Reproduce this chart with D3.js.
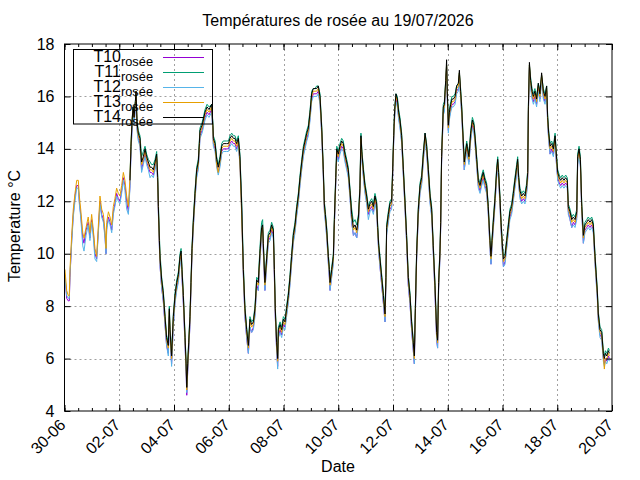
<!DOCTYPE html>
<html lang="fr">
<head>
<meta charset="utf-8">
<title>Températures de rosée au 19/07/2026</title>
<script src="https://cdn.jsdelivr.net/npm/d3@7"></script>
<style>
    body { margin: 0; background: #fff; }
    svg text { font-family: "Liberation Sans", Arial, sans-serif; fill: #000; }
</style>
</head>
<body>
<script>
// heures écoulées depuis le 30/06/2026 00:00
var heures = [
    0.4, 1.9, 3.3, 4.2, 4.8, 6.3, 7.7, 9.2, 10.7, 12.1,
    13.0, 14.2, 16.0, 17.1, 18.9, 20.8, 22.3, 23.8, 25.3, 26.7,
    28.2, 29.7, 31.1, 32.6, 34.1, 35.5, 36.4, 37.0, 38.5, 39.9,
    41.4, 42.8, 44.2, 45.7, 47.2, 48.6, 50.1, 51.6, 53.0, 54.5,
    56.0,
    57.4, 58.3, 59.2, 60.1, 61.0, 62.1, 62.7, 63.6, 64.7, 66.2,
    66.7, 67.6, 69.1, 70.6, 72.0, 73.5, 75.0, 76.4, 77.9, 79.4,
    80.8, 81.7, 82.3, 83.2, 83.8, 85.2, 86.6, 88.1, 89.5, 91.0,
    91.9, 92.5, 93.9, 95.4, 96.9, 98.4, 99.8, 101.3, 102.2, 103.0,
    104.2, 105.7, 106.6, 107.2, 108.0, 108.9, 110.0, 110.9, 111.8, 112.9,
    114.4, 115.9, 117.3, 118.2, 118.8, 120.6, 121.7, 123.2, 125.0, 126.7,
    129.0, 130.1, 130.5, 132.0, 133.4, 134.8, 136.3, 137.8, 139.2, 140.7,
    142.2, 143.7, 145.1, 146.6, 148.1, 149.5, 150.9, 152.4, 153.8, 155.3,
    156.8, 158.2, 159.7, 161.2, 162.6, 164.1, 165.6, 167.0, 168.5, 169.9,
    171.3, 172.8, 173.7, 174.3, 175.7, 177.2, 178.7, 180.2, 181.6, 183.1,
    184.0, 184.8, 186.0, 186.9, 187.5, 189.0, 190.4, 191.9, 193.3, 194.7,
    196.2, 197.7, 199.1, 200.6, 202.1, 203.5, 205.0, 206.5, 208.0, 209.4,
    210.9, 212.4, 213.8, 215.3, 216.7, 218.1, 219.6, 221.1, 222.5, 224.0,
    225.5, 226.9, 227.8, 228.7, 229.9, 231.3, 232.2, 232.8, 234.3, 235.7,
    236.6, 237.8, 238.7, 240.0, 241.5, 243.0, 244.4, 245.9, 247.4, 248.8,
    250.3, 251.8, 253.3, 254.7, 256.2, 257.7, 259.0, 259.9, 260.8, 262.0,
    263.4, 264.9, 266.4, 267.8, 269.3, 270.8, 272.2, 273.7, 274.6, 275.5,
    276.6, 278.1, 279.6, 281.0, 281.8, 282.4, 283.9, 285.3, 286.8, 287.7,
    288.6, 289.5, 290.6, 291.8, 293.0, 294.1, 295.6, 297.1, 298.6, 299.9,
    301.4, 302.9, 304.3, 305.8, 306.7, 307.6, 308.7, 310.2, 311.7, 313.1,
    314.6, 316.1, 317.5, 319.0, 320.5, 321.9, 323.3, 324.8, 326.3, 327.1,
    328.0, 329.2, 329.8, 330.6, 332.1, 333.0, 334.2, 335.0, 335.6, 336.5,
    337.4, 338.6, 339.7, 340.9, 342.4, 343.8, 345.3, 346.2, 347.3, 348.2,
    349.6, 350.5, 351.4, 352.6, 353.4, 354.6, 356.1, 357.6, 359.0, 360.2,
    361.4, 362.8, 364.3, 365.8, 367.1, 368.6, 370.1, 371.5, 373.0, 373.9,
    374.8, 375.9, 377.4, 378.9, 379.8, 380.6, 381.8, 382.7, 383.9, 384.8,
    386.2, 387.7, 389.2, 390.5, 392.0, 393.5, 394.9, 396.4, 397.3, 398.2,
    399.3, 400.8, 402.3, 403.7, 405.2, 406.1, 406.7, 407.6, 408.7, 409.9,
    411.1, 412.4, 413.9, 415.4, 416.8, 418.3, 419.8, 421.3, 422.7, 423.6,
    424.5, 425.7, 427.1, 428.6, 430.1, 431.5, 432.4, 433.8, 435.0, 436.4,
    437.9, 439.4, 440.8, 441.7, 443.2, 444.7, 446.1, 447.6, 449.1, 449.9,
    451.1, 452.3, 453.5, 454.9, 456.3, 457.8, 459.2, 460.7, 462.2, 463.6,
    465.1, 466.0, 467.2, 468.0, 469.5, 471.0, 472.4, 473.3, 474.2, 475.4,
    476.9, 477.7
];

var t10 = [
    9.2, 8.3, 8.2, 8.2, 9.1, 10.5, 11.5, 12.2, 12.6, 12.6,
    12.0, 11.5, 10.6, 10.4, 10.9, 11.2, 10.6, 11.3, 10.8, 10.0,
    9.8, 10.9, 12.0, 11.5, 11.3, 10.7, 10.0, 11.0, 11.4, 11.2,
    10.9, 11.6, 11.9, 12.3, 12.1, 12.0, 12.4, 12.9, 12.6, 12.0,
    11.6,
    12.6, 13.9, 14.8, 15.4, 15.0, 15.6, 16.0, 14.8, 14.4, 14.2,
    13.8, 13.2, 13.5, 13.8, 13.5, 13.3, 13.1, 13.1, 13.0, 13.3,
    13.6, 12.7, 11.6, 10.3, 9.5, 8.7, 8.2, 7.3, 6.5, 6.2,
    7.6, 6.8, 5.8, 7.3, 8.2, 8.7, 9.0, 9.7, 9.9, 9.1,
    8.1, 6.5, 5.5, 4.6, 5.5, 6.3, 7.3, 8.7, 10.0, 11.0,
    12.1, 13.0, 13.3, 14.0, 14.5, 14.7, 14.9, 15.2, 15.4, 15.3,
    15.5, 14.7, 14.2, 14.0, 13.4, 13.1, 13.4, 13.9, 14.0, 14.0,
    14.0, 14.0, 14.2, 14.3, 14.2, 14.2, 14.0, 14.2, 13.5, 11.7,
    9.2, 7.6, 6.8, 6.2, 7.2, 7.0, 7.2, 7.7, 8.8, 8.6,
    9.8, 10.8, 10.9, 10.1, 8.6, 9.6, 10.5, 10.6, 10.9, 10.7,
    9.1, 7.6, 6.3, 5.7, 6.8, 7.1, 6.9, 7.3, 7.2, 7.7,
    8.2, 8.9, 9.7, 10.5, 10.9, 11.5, 12.0, 12.7, 13.3, 13.8,
    14.1, 14.4, 14.6, 15.2, 15.9, 16.1, 16.1, 16.1, 16.2, 15.8,
    14.6, 13.0, 11.7, 11.3, 10.7, 9.7, 9.1, 8.6, 9.2, 9.7,
    11.1, 12.7, 13.8, 13.6, 13.9, 14.1, 14.0, 13.6, 13.3, 13.0,
    12.2, 11.2, 10.7, 10.8, 10.6, 11.2, 12.3, 14.3, 13.6, 13.0,
    12.4, 12.0, 11.5, 11.7, 11.8, 11.6, 12.0, 11.7, 10.8, 10.1,
    9.5, 8.8, 8.1, 7.4, 8.9, 10.8, 11.3, 11.7, 11.8, 13.0,
    14.3, 15.3, 15.9, 15.7, 15.2, 14.9, 14.3, 13.0, 11.7, 10.5,
    8.8, 8.1, 7.1, 6.3, 5.8, 7.7, 9.8, 11.5, 12.4, 12.7,
    13.6, 14.4, 13.9, 13.0, 12.0, 11.5, 10.1, 8.5, 6.7, 6.4,
    8.7, 9.9, 11.0, 13.5, 15.4, 15.5, 16.4, 17.1, 16.0, 14.7,
    15.2, 15.5, 15.7, 15.7, 15.8, 16.2, 16.3, 16.8, 16.0, 15.4,
    14.1, 13.2, 13.6, 14.0, 13.8, 13.5, 14.4, 14.9, 14.7, 14.1,
    13.4, 12.6, 12.4, 12.7, 12.9, 12.6, 12.4, 11.6, 10.3, 9.6,
    10.3, 11.0, 11.9, 13.0, 13.4, 12.9, 11.9, 11.0, 10.1, 9.5,
    9.7, 10.3, 10.9, 11.4, 11.6, 12.1, 12.6, 13.1, 13.4, 12.7,
    12.2, 12.0, 12.1, 12.0, 12.4, 12.9, 15.4, 17.1, 16.4, 16.0,
    15.8, 16.0, 15.7, 16.3, 15.9, 16.7, 16.0, 15.8, 16.2, 15.0,
    14.4, 13.8, 14.0, 13.8, 14.3, 13.3, 12.9, 12.7, 12.6, 12.7,
    12.6, 12.7, 12.6, 11.6, 11.3, 11.0, 11.2, 11.1, 11.4, 13.5,
    13.8, 13.4, 11.6, 10.4, 10.9, 11.0, 11.1, 11.0, 11.1, 10.9,
    9.7, 9.1, 8.3, 7.5, 6.9, 6.8, 6.0, 5.8, 6.0, 5.9,
    6.1, 6.0
];

var t11 = [
    null, null, null, null, null, null, null, null, null, null,
    null, null, null, null, null, null, null, null, null, null,
    null, null, null, null, null, null, null, null, null, null,
    null, null, null, null, null, null, null, null, null, null,
    null,
    12.9, 14.2, 15.1, 15.6, 15.3, 15.8, 16.1, 15.1, 14.7, 14.5,
    14.2, 13.7, 13.9, 14.1, 13.8, 13.6, 13.5, 13.4, 13.4, 13.6,
    13.9, 13.0, 12.0, 10.7, 10.0, 9.1, 8.6, 7.7, 6.9, 6.6,
    8.0, 7.2, 6.2, 7.7, 8.5, 9.0, 9.3, 10.0, 10.2, 9.5,
    8.5, 6.9, 5.9, 5.0, 5.9, 6.7, 7.7, 9.0, 10.3, 11.3,
    12.4, 13.3, 13.6, 14.3, 14.8, 15.0, 15.2, 15.5, 15.7, 15.6,
    15.7, 15.0, 14.5, 14.3, 13.7, 13.4, 13.7, 14.2, 14.3, 14.3,
    14.3, 14.3, 14.5, 14.6, 14.5, 14.5, 14.3, 14.5, 13.8, 12.1,
    9.6, 8.0, 7.2, 6.6, 7.6, 7.4, 7.5, 8.0, 9.1, 9.0,
    10.2, 11.2, 11.3, 10.5, 9.0, 9.9, 10.8, 10.9, 11.2, 11.0,
    9.5, 8.0, 6.7, 6.1, 7.2, 7.4, 7.2, 7.6, 7.5, 8.0,
    8.5, 9.2, 10.0, 10.8, 11.2, 11.8, 12.3, 13.0, 13.6, 14.1,
    14.4, 14.7, 14.9, 15.5, 16.2, 16.3, 16.3, 16.4, 16.4, 16.1,
    14.9, 13.3, 12.0, 11.6, 11.0, 10.0, 9.5, 9.0, 9.5, 10.0,
    11.4, 13.0, 14.1, 13.9, 14.2, 14.4, 14.3, 13.9, 13.6, 13.3,
    12.5, 11.7, 11.2, 11.3, 11.1, 11.5, 12.6, 14.6, 13.9, 13.3,
    12.7, 12.3, 11.8, 12.0, 12.1, 11.9, 12.3, 12.0, 11.1, 10.4,
    9.9, 9.2, 8.5, 7.8, 9.2, 11.1, 11.6, 12.0, 12.1, 13.3,
    14.6, 15.6, 16.1, 16.0, 15.5, 15.2, 14.6, 13.3, 12.0, 10.8,
    9.2, 8.5, 7.5, 6.7, 6.2, 8.0, 10.1, 11.8, 12.7, 13.0,
    13.9, 14.6, 14.2, 13.3, 12.3, 11.8, 10.4, 8.9, 7.1, 6.8,
    9.0, 10.2, 11.3, 13.8, 15.7, 15.8, 16.6, 17.2, 16.3, 15.0,
    15.5, 15.8, 16.0, 16.0, 16.1, 16.4, 16.5, 16.9, 16.3, 15.7,
    14.4, 13.6, 13.9, 14.3, 14.1, 13.8, 14.7, 15.2, 15.0, 14.4,
    13.7, 12.9, 12.7, 13.0, 13.2, 12.9, 12.7, 11.9, 10.6, 10.0,
    10.6, 11.3, 12.2, 13.3, 13.7, 13.2, 12.2, 11.3, 10.4, 9.9,
    10.0, 10.6, 11.2, 11.7, 11.9, 12.4, 12.9, 13.4, 13.7, 13.0,
    12.5, 12.3, 12.4, 12.3, 12.7, 13.2, 15.7, 17.2, 16.7, 16.3,
    16.1, 16.3, 16.0, 16.5, 16.2, 16.8, 16.3, 16.1, 16.4, 15.3,
    14.7, 14.2, 14.3, 14.1, 14.6, 13.7, 13.2, 13.0, 12.9, 13.0,
    12.9, 13.0, 12.9, 11.9, 11.7, 11.4, 11.5, 11.4, 11.7, 13.8,
    14.1, 13.7, 11.9, 10.8, 11.2, 11.3, 11.4, 11.3, 11.4, 11.2,
    10.0, 9.4, 8.6, 7.8, 7.2, 7.1, 6.3, 6.1, 6.3, 6.2,
    6.4, 6.3
];

var t12 = [
    9.1, 8.4, 8.3, 8.3, 9.2, 10.4, 11.4, 12.0, 12.5, 12.5,
    11.9, 11.4, 10.3, 10.1, 10.7, 11.1, 10.5, 11.2, 10.6, 9.8,
    9.7, 10.8, 11.9, 11.4, 11.2, 10.6, 10.0, 10.9, 11.3, 11.1,
    10.8, 11.5, 11.8, 12.2, 12.0, 11.9, 12.3, 12.8, 12.4, 11.7,
    11.5,
    12.5, 13.8, 14.7, 15.3, 14.9, 15.5, 15.9, 14.7, 14.3, 14.1,
    13.7, 13.1, 13.4, 13.7, 13.4, 13.2, 12.9, 13.0, 12.9, 13.2,
    13.5, 12.6, 11.5, 10.2, 9.5, 8.7, 8.2, 7.3, 6.5, 6.1,
    7.6, 6.8, 5.7, 7.2, 8.1, 8.6, 8.9, 9.6, 9.8, 9.1,
    8.1, 6.5, 5.5, 4.7, 5.5, 6.3, 7.3, 8.6, 9.9, 10.9,
    12.0, 12.9, 13.2, 13.9, 14.4, 14.6, 14.8, 15.1, 15.3, 15.2,
    15.4, 14.6, 14.1, 13.9, 13.3, 13.0, 13.3, 13.8, 13.9, 13.9,
    13.9, 13.9, 14.1, 14.2, 14.1, 14.1, 13.9, 14.1, 13.4, 11.6,
    9.1, 7.6, 6.8, 6.2, 7.2, 7.0, 7.1, 7.6, 8.7, 8.6,
    9.7, 10.7, 10.8, 10.1, 8.6, 9.5, 10.4, 10.5, 10.8, 10.6,
    9.1, 7.6, 6.3, 5.6, 6.8, 7.0, 6.8, 7.2, 7.1, 7.6,
    8.1, 8.8, 9.6, 10.4, 10.8, 11.4, 11.9, 12.6, 13.2, 13.7,
    14.0, 14.3, 14.5, 15.1, 15.8, 16.0, 16.0, 16.0, 16.1, 15.7,
    14.5, 12.9, 11.6, 11.2, 10.6, 9.6, 9.1, 8.6, 9.1, 9.6,
    11.0, 12.6, 13.7, 13.5, 13.8, 14.0, 13.9, 13.5, 13.2, 12.9,
    12.1, 11.2, 10.7, 10.8, 10.6, 11.1, 12.2, 14.2, 13.5, 12.9,
    12.3, 11.9, 11.3, 11.6, 11.7, 11.5, 11.9, 11.6, 10.7, 10.0,
    9.5, 8.8, 8.1, 7.4, 8.8, 10.7, 11.2, 11.6, 11.7, 12.9,
    14.2, 15.2, 15.8, 15.6, 15.1, 14.8, 14.2, 12.9, 11.6, 10.4,
    8.8, 8.1, 7.1, 6.3, 5.8, 7.6, 9.7, 11.4, 12.3, 12.6,
    13.5, 14.3, 13.8, 12.9, 11.9, 11.4, 10.0, 8.5, 6.7, 6.4,
    8.6, 9.8, 10.9, 13.4, 15.3, 15.4, 16.3, 17.0, 15.9, 14.6,
    15.1, 15.4, 15.6, 15.6, 15.7, 16.1, 16.2, 16.7, 15.9, 15.3,
    14.0, 13.2, 13.5, 13.9, 13.7, 13.4, 14.3, 14.8, 14.6, 14.0,
    13.3, 12.5, 12.3, 12.6, 12.8, 12.5, 12.3, 11.5, 10.2, 9.6,
    10.2, 10.9, 11.8, 12.9, 13.3, 12.8, 11.8, 10.9, 10.0, 9.5,
    9.6, 10.2, 10.8, 11.3, 11.5, 12.0, 12.5, 13.0, 13.3, 12.6,
    12.1, 11.9, 12.0, 11.9, 12.3, 12.8, 15.3, 17.0, 16.3, 15.9,
    15.7, 15.9, 15.6, 16.2, 15.8, 16.6, 15.9, 15.7, 16.1, 14.9,
    14.3, 13.8, 13.9, 13.7, 14.2, 13.3, 12.8, 12.6, 12.5, 12.6,
    12.5, 12.6, 12.5, 11.5, 11.3, 11.0, 11.1, 11.0, 11.3, 13.4,
    13.7, 13.3, 11.5, 10.4, 10.8, 10.9, 11.0, 10.9, 11.0, 10.8,
    9.6, 9.0, 8.2, 7.4, 6.8, 6.7, 5.9, 5.7, 5.9, 5.8,
    6.0, 5.9
];

var t13 = [
    9.4, 8.6, 8.4, 8.4, 9.4, 10.7, 11.7, 12.3, 12.8, 12.8,
    12.2, 11.7, 10.8, 10.6, 11.0, 11.4, 10.8, 11.5, 10.9, 10.2,
    9.9, 11.1, 12.2, 11.7, 11.5, 10.9, 10.2, 11.2, 11.6, 11.4,
    11.1, 11.8, 12.1, 12.5, 12.3, 12.2, 12.6, 13.1, 12.8, 12.2,
    11.8,
    12.9, 14.1, 15.1, 15.5, 15.2, 15.7, 16.2, 14.9, 14.5, 14.3,
    13.9, 13.4, 13.6, 13.9, 13.6, 13.4, 13.2, 13.2, 13.1, 13.4,
    13.7, 12.8, 11.7, 10.4, 9.7, 8.9, 8.4, 7.5, 6.7, 6.4,
    7.8, 7.0, 6.0, 7.5, 8.3, 8.8, 9.1, 9.8, 10.0, 9.3,
    8.3, 6.7, 5.7, 4.8, 5.7, 6.5, 7.5, 8.8, 10.1, 11.1,
    12.2, 13.1, 13.4, 14.1, 14.6, 14.8, 15.0, 15.3, 15.5, 15.4,
    15.6, 14.8, 14.3, 14.1, 13.4, 13.1, 13.5, 14.0, 14.1, 14.1,
    14.1, 14.1, 14.3, 14.4, 14.3, 14.3, 14.1, 14.3, 13.5, 11.5,
    9.3, 7.8, 7.0, 6.4, 7.4, 7.2, 7.3, 7.8, 8.9, 8.8,
    9.9, 10.9, 11.0, 10.3, 8.8, 9.7, 10.6, 10.7, 11.0, 10.8,
    9.3, 7.8, 6.5, 5.9, 7.0, 7.2, 7.0, 7.4, 7.3, 7.8,
    8.3, 9.0, 9.8, 10.6, 11.0, 11.6, 12.1, 12.8, 13.4, 13.9,
    14.2, 14.5, 14.7, 15.3, 16.0, 16.2, 16.2, 16.2, 16.3, 15.9,
    14.7, 13.1, 11.8, 11.4, 10.8, 9.8, 9.3, 8.8, 9.3, 9.8,
    11.2, 12.8, 13.9, 13.7, 14.0, 14.2, 14.1, 13.7, 13.4, 13.1,
    12.3, 11.4, 10.9, 11.0, 10.8, 11.3, 12.4, 14.4, 13.7, 13.1,
    12.5, 12.1, 11.6, 11.8, 11.9, 11.7, 12.1, 11.8, 10.9, 10.2,
    9.7, 9.0, 8.3, 7.6, 9.0, 10.9, 11.4, 11.8, 11.9, 13.1,
    14.4, 15.4, 16.0, 15.8, 15.3, 15.0, 14.4, 13.1, 11.8, 10.6,
    9.0, 8.3, 7.3, 6.5, 6.0, 7.8, 9.9, 11.6, 12.5, 12.8,
    13.7, 14.5, 14.0, 13.1, 12.1, 11.6, 10.2, 8.7, 6.9, 6.6,
    8.8, 10.0, 11.1, 13.6, 15.5, 15.6, 16.5, 17.2, 16.1, 14.8,
    15.3, 15.6, 15.8, 15.8, 15.9, 16.3, 16.4, 16.9, 16.1, 15.5,
    14.2, 13.4, 13.7, 14.1, 13.9, 13.6, 14.5, 15.0, 14.8, 14.2,
    13.5, 12.7, 12.5, 12.8, 13.0, 12.7, 12.5, 11.7, 10.4, 9.8,
    10.4, 11.1, 12.0, 13.1, 13.5, 13.0, 12.0, 11.1, 10.2, 9.7,
    9.8, 10.4, 11.0, 11.5, 11.7, 12.2, 12.7, 13.2, 13.5, 12.8,
    12.3, 12.1, 12.2, 12.1, 12.5, 13.0, 15.5, 17.2, 16.5, 16.1,
    15.9, 16.1, 15.8, 16.4, 16.0, 16.8, 16.1, 15.9, 16.3, 15.1,
    14.5, 14.0, 14.1, 13.9, 14.4, 13.5, 13.0, 12.8, 12.7, 12.8,
    12.7, 12.8, 12.7, 11.7, 11.5, 11.2, 11.3, 11.2, 11.5, 13.6,
    13.9, 13.5, 11.7, 10.6, 11.0, 11.1, 11.2, 11.1, 11.2, 11.0,
    9.8, 9.2, 8.4, 7.6, 7.0, 6.9, 6.1, 5.6, 6.0, 6.0,
    6.2, 6.1
];

var t14 = [
    null, null, null, null, null, null, null, null, null, null,
    null, null, null, null, null, null, null, null, null, null,
    null, null, null, null, null, null, null, null, null, null,
    null, null, null, null, null, null, null, null, null, null,
    null,
    12.8, 14.1, 15.0, 15.6, 15.2, 15.8, 16.2, 15.0, 14.6, 14.4,
    14.0, 13.5, 13.7, 14.0, 13.7, 13.5, 13.3, 13.3, 13.2, 13.5,
    13.8, 12.9, 11.8, 10.5, 9.8, 9.0, 8.5, 7.6, 6.8, 6.5,
    7.9, 7.1, 6.1, 7.6, 8.4, 8.9, 9.2, 9.9, 10.1, 9.4,
    8.4, 6.8, 5.8, 4.9, 5.8, 6.6, 7.6, 8.9, 10.2, 11.2,
    12.3, 13.2, 13.5, 14.2, 14.7, 14.9, 15.1, 15.4, 15.6, 15.5,
    15.7, 14.9, 14.4, 14.2, 13.6, 13.3, 13.6, 14.1, 14.2, 14.2,
    14.2, 14.2, 14.4, 14.5, 14.4, 14.4, 14.2, 14.4, 13.7, 11.9,
    9.4, 7.9, 7.1, 6.5, 7.5, 7.3, 7.4, 7.9, 9.0, 8.9,
    10.0, 11.0, 11.1, 10.4, 8.9, 9.8, 10.7, 10.8, 11.1, 10.9,
    9.4, 7.9, 6.6, 6.0, 7.1, 7.3, 7.1, 7.5, 7.4, 7.9,
    8.4, 9.1, 9.9, 10.7, 11.1, 11.7, 12.2, 12.9, 13.5, 14.0,
    14.3, 14.6, 14.8, 15.4, 16.1, 16.3, 16.3, 16.3, 16.4, 16.0,
    14.8, 13.2, 11.9, 11.5, 10.9, 9.9, 9.4, 8.9, 9.4, 9.9,
    11.3, 12.9, 14.0, 13.8, 14.1, 14.3, 14.2, 13.8, 13.5, 13.2,
    12.4, 11.5, 11.0, 11.1, 10.9, 11.4, 12.5, 14.5, 13.8, 13.2,
    12.6, 12.2, 11.7, 11.9, 12.0, 11.8, 12.2, 11.9, 11.0, 10.3,
    9.8, 9.1, 8.4, 7.7, 9.1, 11.0, 11.5, 11.9, 12.0, 13.2,
    14.5, 15.5, 16.1, 15.9, 15.4, 15.1, 14.5, 13.2, 11.9, 10.7,
    9.1, 8.4, 7.4, 6.6, 6.1, 7.9, 10.0, 11.7, 12.6, 12.9,
    13.8, 14.6, 14.1, 13.2, 12.2, 11.7, 10.3, 8.8, 7.0, 6.7,
    8.9, 10.1, 11.2, 13.7, 15.6, 15.7, 16.6, 17.4, 16.2, 14.9,
    15.4, 15.7, 15.9, 15.9, 16.0, 16.4, 16.5, 17.0, 16.2, 15.6,
    14.3, 13.5, 13.8, 14.2, 14.0, 13.7, 14.6, 15.1, 14.9, 14.3,
    13.6, 12.8, 12.6, 12.9, 13.1, 12.8, 12.6, 11.8, 10.5, 9.9,
    10.5, 11.2, 12.1, 13.2, 13.6, 13.1, 12.1, 11.2, 10.3, 9.8,
    9.9, 10.5, 11.1, 11.6, 11.8, 12.3, 12.8, 13.3, 13.6, 12.9,
    12.4, 12.2, 12.3, 12.2, 12.6, 13.1, 15.6, 17.3, 16.6, 16.2,
    16.0, 16.2, 15.9, 16.5, 16.1, 16.9, 16.2, 16.0, 16.4, 15.2,
    14.6, 14.1, 14.2, 14.0, 14.5, 13.6, 13.1, 12.9, 12.8, 12.9,
    12.8, 12.9, 12.8, 11.8, 11.6, 11.3, 11.4, 11.3, 11.6, 13.7,
    14.0, 13.6, 11.8, 10.7, 11.1, 11.2, 11.3, 11.2, 11.3, 11.1,
    9.9, 9.3, 8.5, 7.7, 7.1, 7.0, 6.2, 6.0, 6.2, 6.1,
    6.3, 6.2
];

var nomsSeries = ['T10', 'T11', 'T12', 'T13', 'T14'];
var couleurs = ['#9400d3', '#009e73', '#56b4e9', '#e69f00', '#000000'];
var valeursSeries = [t10, t11, t12, t13, t14];

var etiquettesX = ['30-06', '02-07', '04-07', '06-07', '08-07', '10-07',
                   '12-07', '14-07', '16-07', '18-07', '20-07'];
var graduationsY = [4, 6, 8, 10, 12, 14, 16, 18];

var largeur = 640, hauteur = 480;
var gauche = 64.5, droite = 612, haut = 44, bas = 411;

var lireDate = d3.timeParse('%d-%m-%Y');
var datesMajeures = etiquettesX.map(function(e) { return lireDate(e + '-2026'); });
var debut = datesMajeures[0], fin = datesMajeures[datesMajeures.length - 1];
var datesMineures = d3.timeHour.every(12).range(debut, d3.timeHour.offset(fin, 1));

var x = d3.scaleTime().domain([debut, fin]).range([gauche, droite]);
var y = d3.scaleLinear().domain([4, 18]).range([bas, haut]);

var svg = d3.select('body').append('svg')
    .attr('width', largeur)
    .attr('height', hauteur)
    .style('display', 'block');

// grille pointillée
var grille = svg.append('g')
    .attr('stroke', '#a0a0a0')
    .attr('stroke-width', 1)
    .attr('stroke-dasharray', '2,3');

grille.selectAll('line.gx')
    .data(datesMajeures.slice(1, -1))
    .enter().append('line')
    .attr('x1', function(d) { return Math.round(x(d)) + 0.5; })
    .attr('x2', function(d) { return Math.round(x(d)) + 0.5; })
    .attr('y1', haut).attr('y2', bas);

grille.selectAll('line.gy')
    .data(graduationsY.slice(1, -1))
    .enter().append('line')
    .attr('x1', gauche).attr('x2', droite)
    .attr('y1', function(d) { return Math.round(y(d)) + 0.5; })
    .attr('y2', function(d) { return Math.round(y(d)) + 0.5; });

// courbes
var ligne = d3.line()
    .defined(function(d) { return d.v !== null; })
    .x(function(d) { return x(d.date); })
    .y(function(d) { return y(d.v); });

var courbes = svg.append('g');
valeursSeries.forEach(function(valeurs, i) {
    var points = heures.map(function(h, j) {
        return { date: d3.timeMinute.offset(debut, Math.round(h * 60)), v: valeurs[j] };
    });
    courbes.append('path')
        .datum(points)
        .attr('fill', 'none')
        .attr('stroke', couleurs[i])
        .attr('stroke-width', 1)
        .attr('stroke-linejoin', 'round')
        .attr('d', ligne);
});

// axes : graduations vers l'intérieur sur les quatre côtés
function sansDomaine(g) { g.select('.domain').remove(); }

svg.append('g')
    .attr('transform', 'translate(0,' + bas + ')')
    .call(d3.axisBottom(x).tickValues(datesMineures).tickSize(-3).tickFormat(''))
    .call(sansDomaine);
svg.append('g')
    .attr('transform', 'translate(0,' + haut + ')')
    .call(d3.axisTop(x).tickValues(datesMineures).tickSize(-3).tickFormat(''))
    .call(sansDomaine);
svg.append('g')
    .attr('transform', 'translate(0,' + haut + ')')
    .call(d3.axisTop(x).tickValues(datesMajeures).tickSize(-6).tickFormat(''))
    .call(sansDomaine);
svg.append('g')
    .attr('transform', 'translate(' + droite + ',0)')
    .call(d3.axisRight(y).tickValues(graduationsY).tickSize(-6).tickFormat(''))
    .call(sansDomaine);

var axeX = svg.append('g')
    .attr('transform', 'translate(0,' + bas + ')')
    .call(d3.axisBottom(x).tickValues(datesMajeures).tickSize(-6)
        .tickFormat(function(d, i) { return etiquettesX[i]; }))
    .call(sansDomaine);
axeX.selectAll('text')
    .attr('y', 0).attr('dy', 0)
    .attr('text-anchor', 'end')
    .attr('transform', 'translate(1.5,15) rotate(-45)')
    .style('font-size', '16px');

var axeY = svg.append('g')
    .attr('transform', 'translate(' + gauche + ',0)')
    .call(d3.axisLeft(y).tickValues(graduationsY).tickSize(-6).tickPadding(10))
    .call(sansDomaine);
axeY.selectAll('text').style('font-size', '16px');

svg.selectAll('.tick line').attr('stroke', '#000');
svg.selectAll('.tick text').attr('fill', '#000').style('font-family', '"Liberation Sans", Arial, sans-serif');

// cadre
svg.append('rect')
    .attr('x', gauche).attr('y', haut)
    .attr('width', droite - gauche).attr('height', bas - haut)
    .attr('fill', 'none').attr('stroke', '#000').attr('stroke-width', 1);

// légende
var legende = svg.append('g');
legende.append('rect')
    .attr('x', 73.5).attr('y', 49.5)
    .attr('width', 139).attr('height', 74.5)
    .attr('fill', 'none').attr('stroke', '#000');

nomsSeries.forEach(function(nom, i) {
    var ly = 57.5 + i * 15;
    legende.append('line')
        .attr('x1', 163).attr('x2', 204)
        .attr('y1', ly).attr('y2', ly)
        .attr('stroke', couleurs[i]).attr('stroke-width', 1);
    var t = legende.append('text')
        .attr('x', 153).attr('y', ly + 4.5)
        .attr('text-anchor', 'end')
        .style('font-size', '16px');
    t.append('tspan').text(nom);
    t.append('tspan').attr('dy', 4).style('font-size', '12.8px').text('rosée');
});

// titres
svg.append('text')
    .attr('x', 338).attr('y', 26)
    .attr('text-anchor', 'middle')
    .style('font-size', '16px')
    .text('Températures de rosée au 19/07/2026');

svg.append('text')
    .attr('x', 338).attr('y', 472)
    .attr('text-anchor', 'middle')
    .style('font-size', '16px')
    .text('Date');

svg.append('text')
    .attr('transform', 'translate(20,226) rotate(-90)')
    .attr('text-anchor', 'middle')
    .style('font-size', '16px')
    .text('Temperature °C');
</script>
</body>
</html>
